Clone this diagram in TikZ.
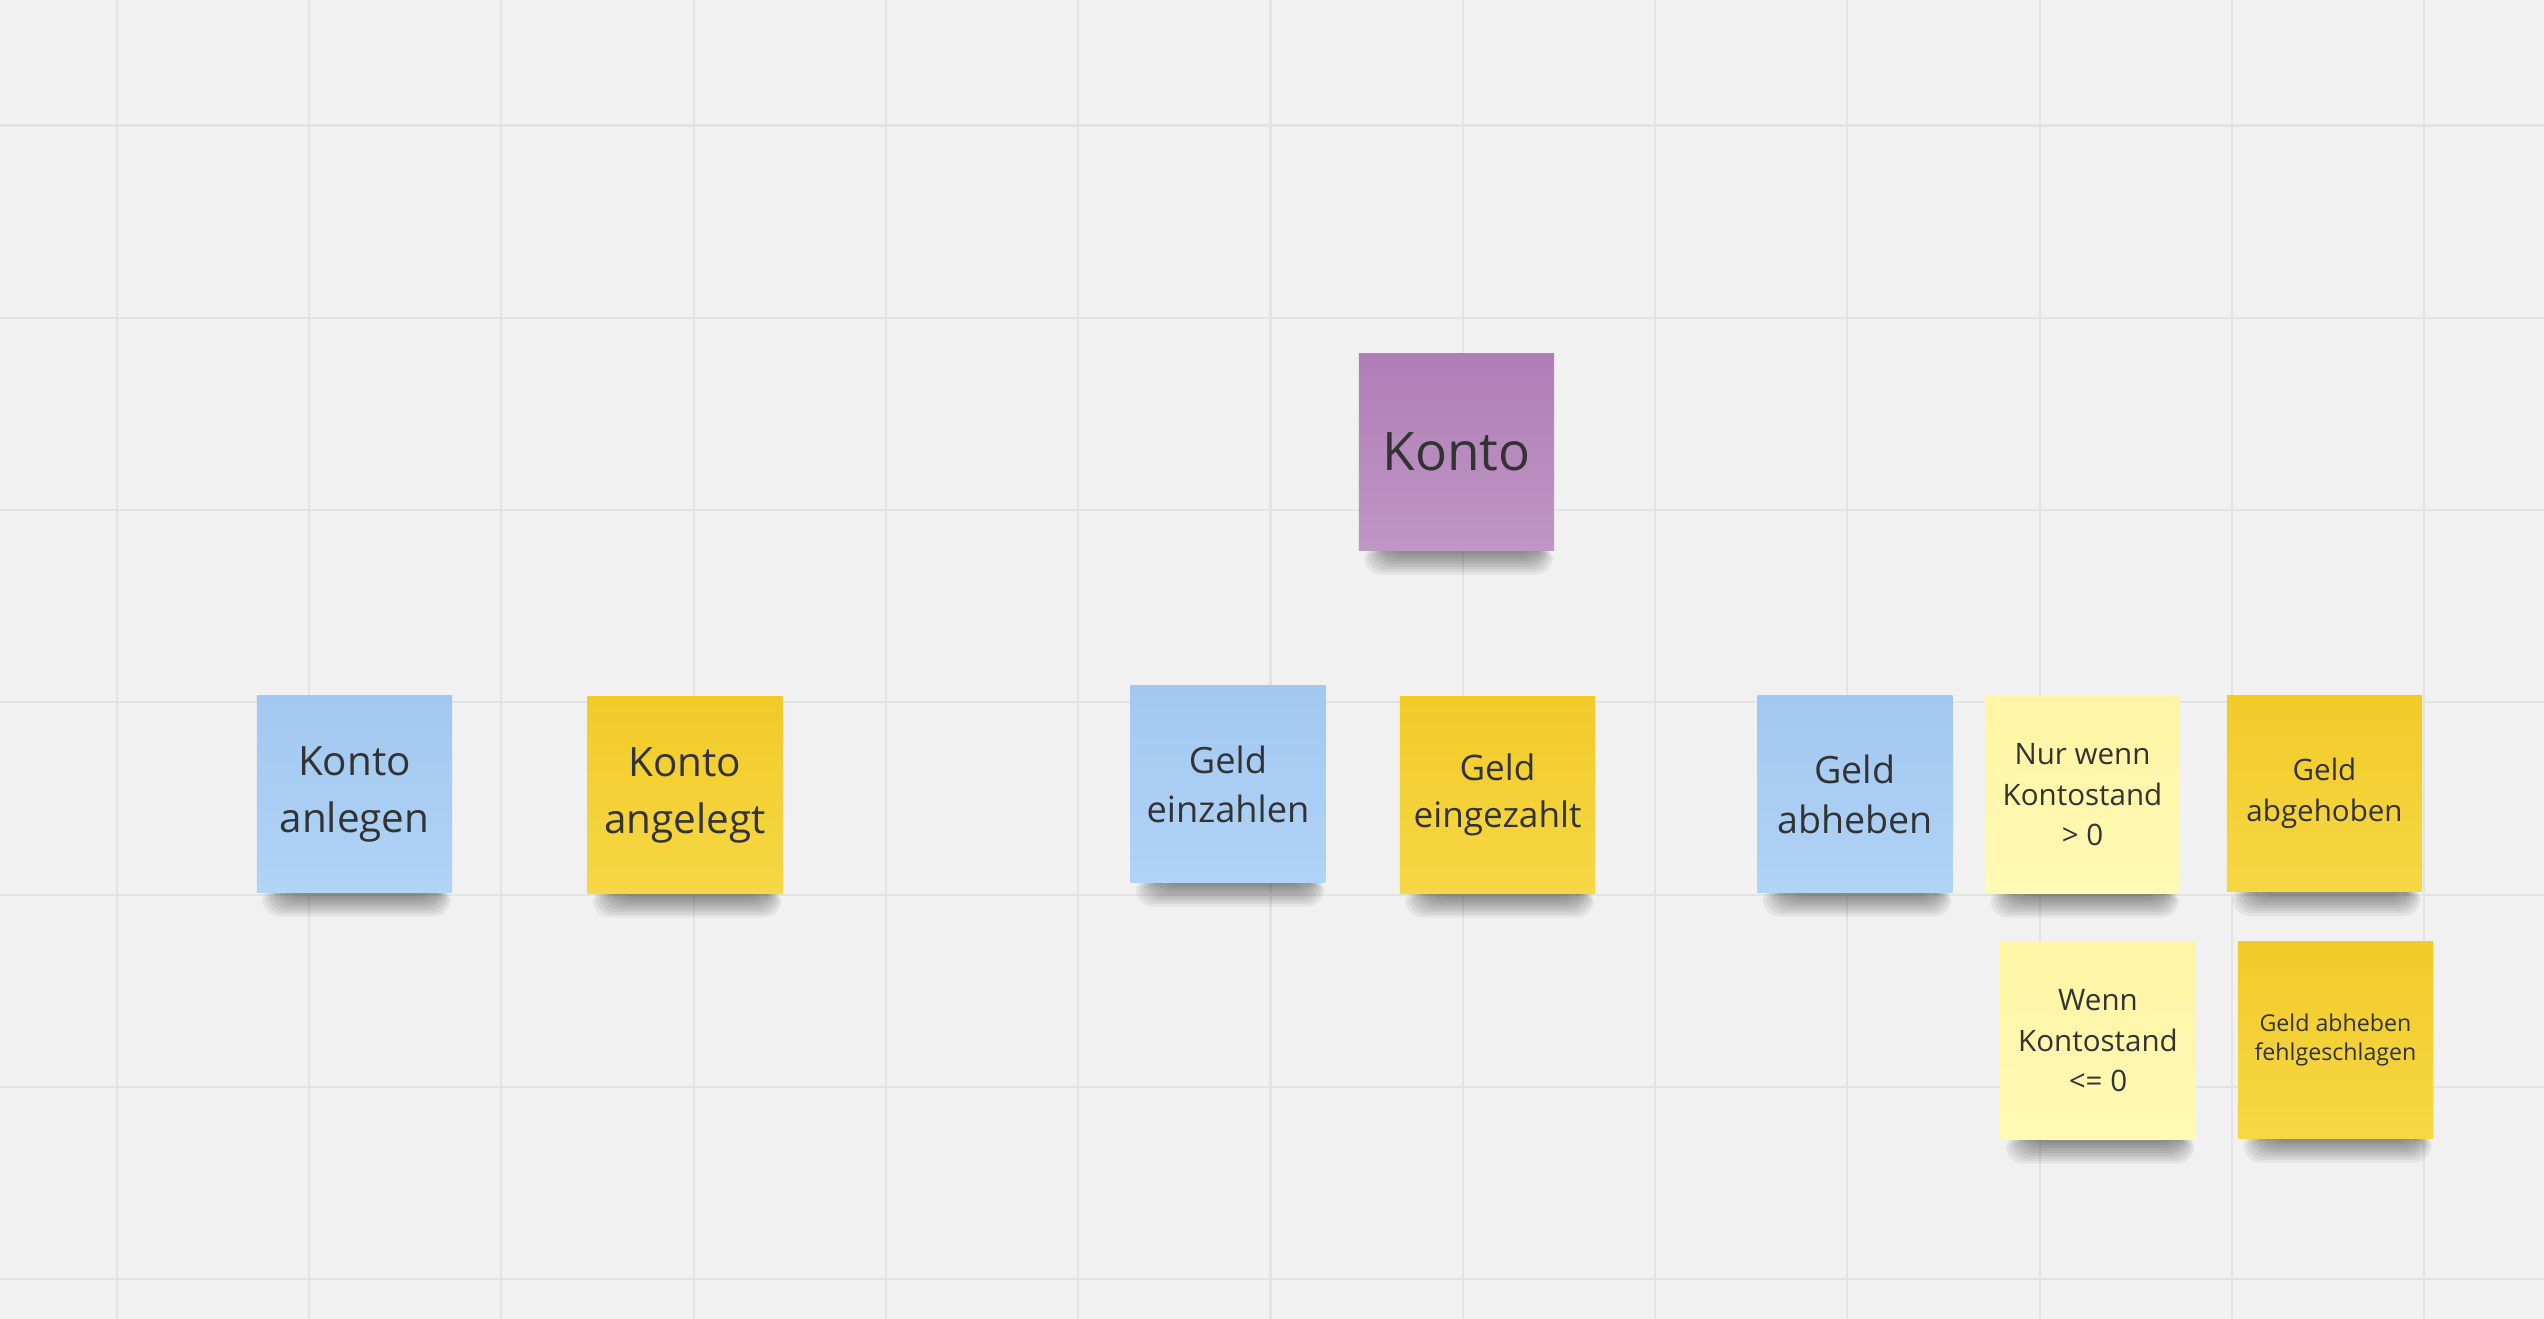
\documentclass[tikz,border=0pt]{standalone}
\usepackage{fontspec}
\setmainfont{Open Sans}
\usepackage{tikz}
\usetikzlibrary{calc,backgrounds}
\definecolor{paper}{HTML}{F1F1F1}
\definecolor{gridgray}{HTML}{E3E3E3}
\definecolor{ink}{HTML}{333333}
\definecolor{blueTop}{HTML}{A3C8F0}
\definecolor{blueBot}{HTML}{B0D3F6}
\definecolor{yellowTop}{HTML}{F2CB28}
\definecolor{yellowBot}{HTML}{F6D744}
\definecolor{paleTop}{HTML}{FFF5A4}
\definecolor{paleBot}{HTML}{FFF9B4}
\definecolor{purpleTop}{HTML}{AF7EB6}
\definecolor{purpleBot}{HTML}{BF96C5}
\tikzstyle{sticky} = [rectangle, minimum width=1.95cm, minimum height=1.96cm, inner sep=0pt, align=center, text=ink]
\tikzstyle{command} = [sticky, top color=blueTop, bottom color=blueBot]
\tikzstyle{event} = [sticky, top color=yellowTop, bottom color=yellowBot]
\tikzstyle{policy} = [sticky, top color=paleTop, bottom color=paleBot]
\tikzstyle{aggregate} = [sticky, top color=purpleTop, bottom color=purpleBot]
\tikzstyle{gridline} = [gridgray, line width=0.6pt]

\begin{document}
\begin{tikzpicture}[x=0.01cm, y=-0.01cm]
\useasboundingbox (0,0) rectangle (2544,1319);

\node(konto)[aggregate, font=\fontsize{15.1}{20}\selectfont] at (1456.5,452){Konto};

\node(kontoanlegen)[command, font=\fontsize{11.5}{16.2}\selectfont] at (354.5,794){Konto\\anlegen};
\node(kontoangelegt)[event, font=\fontsize{11.5}{16.2}\selectfont] at (685,795){Konto\\angelegt};

\node(geldeinzahlen)[command, font=\fontsize{10.3}{13.9}\selectfont] at (1228,784){Geld\\einzahlen};
\node(geldeingezahlt)[event, font=\fontsize{10}{13.4}\selectfont] at (1497.5,795){Geld\\eingezahlt};

\node(geldabheben)[command, font=\fontsize{10.7}{14.2}\selectfont] at (1855,794){Geld\\abheben};
\node(nurwenn)[policy, font=\fontsize{8.4}{11.5}\selectfont] at (2082.5,795){Nur wenn\\Kontostand\\> 0};
\node(geldabgehoben)[event, font=\fontsize{8.4}{11.5}\selectfont] at (2324.5,793.5){Geld\\abgehoben};
\node(wenn)[policy, font=\fontsize{8.4}{11.5}\selectfont] at (2098,1041){Wenn\\Kontostand\\<= 0};
\node(fehlgeschlagen)[event, font=\fontsize{6.6}{8.5}\selectfont] at (2335.5,1040){Geld abheben\\fehlgeschlagen};

\begin{pgfonlayer}{background}
\fill[paper] (0,0) rectangle (2544,1319);
\foreach \gx in {0,...,12}
  \draw[gridline] ({116.7+192.3*\gx},0) -- ++(0,1319);
\foreach \gy in {0,...,6}
  \draw[gridline] (0,{125.5+192.3*\gy}) -- ++(2544,0);
% soft shadow under each note
\foreach \n in {konto,kontoanlegen,kontoangelegt,geldeinzahlen,geldeingezahlt,geldabheben,nurwenn,geldabgehoben,wenn,fehlgeschlagen}
  \foreach \s in {0,...,8}
    \fill[black, opacity=0.055, rounded corners=5pt] ($(\n.south west)+(30-3*\s,-8)$) rectangle ($(\n.south east)+(-18+2*\s,3+2.6*\s)$);
\end{pgfonlayer}
\end{tikzpicture}
\end{document}
